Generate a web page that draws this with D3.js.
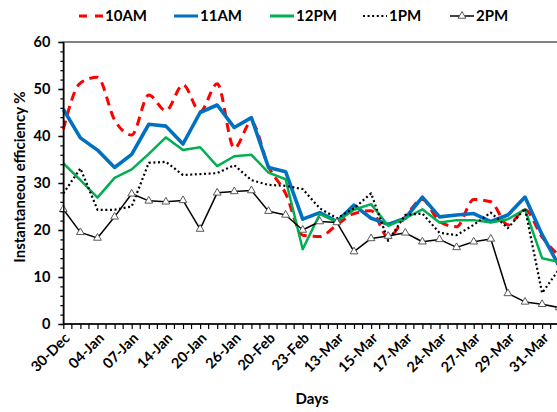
<!DOCTYPE html>
<html><head><meta charset="utf-8">
<script src="https://cdn.jsdelivr.net/npm/d3@7"></script>
<style>
body{margin:0;background:#fff}
svg{display:block;font-family:Lato,'Liberation Sans',sans-serif;font-weight:bold}
</style>
</head><body><svg id="c" width="557" height="412"></svg>
<script>
// categories (only every other one is labelled in the chart)
const days = ["30-Dec","02-Jan","04-Jan","05-Jan","07-Jan","10-Jan","14-Jan","17-Jan","20-Jan","23-Jan",
  "26-Jan","29-Jan","20-Feb","21-Feb","23-Feb","25-Feb","13-Mar","14-Mar","15-Mar","16-Mar",
  "17-Mar","20-Mar","24-Mar","25-Mar","27-Mar","28-Mar","29-Mar","30-Mar","31-Mar","01-Apr"];
const seriesNames = ["10AM","11AM","12PM","1PM","2PM"];
const s10AM = [41.4,51.3,52.5,43.4,40.2,48.7,45.4,50.9,45.2,51.1,37.4,43.0,33.5,27.8,18.9,18.6,21.1,23.5,24.1,18.4,22.8,26.5,21.8,20.7,26.5,26.0,21.1,24.3,18.5,14.5];
const s11AM = [45.7,39.6,37.0,33.3,36.1,42.5,42.1,38.3,45.0,46.6,41.8,43.9,33.3,32.4,22.3,23.7,21.8,25.3,22.5,21.2,22.5,27.0,22.8,23.2,23.5,21.8,23.2,27.0,19.0,12.3];
const s12PM = [34.2,30.6,26.9,31.1,32.9,36.2,39.7,37.0,37.6,33.6,35.7,36.0,32.2,30.8,15.9,23.4,21.8,24.3,25.5,20.9,22.5,24.4,21.6,22.1,22.1,21.6,22.3,24.4,14.0,13.2];
const s1PM  = [27.8,33.1,24.3,24.3,25.0,34.3,34.5,31.7,31.9,32.1,33.8,30.6,29.6,29.4,28.7,24.6,22.5,24.6,27.8,17.7,23.2,23.5,19.4,18.9,21.1,23.7,20.4,24.6,6.6,11.7];
const s2PM  = [24.4,19.5,18.3,22.8,27.7,26.2,26.0,26.3,20.2,27.9,28.2,28.4,24.0,23.2,20.0,21.8,21.6,15.4,18.2,18.7,19.4,17.5,18.0,16.3,17.5,18.1,6.5,4.7,4.2,3.5];
const yTicks = [0,10,20,30,40,50,60];
const yMinorTicks = d3.range(0,61,2);

const svg = d3.select('#c');
const W = 557;
const mLeft = 63.3, mTop = 42, mBottom = 324, step = 17.1;

const x = d3.scalePoint().domain(days).range([mLeft, mLeft + step*(days.length-1)]);
const y = d3.scaleLinear().domain([0,60]).range([mBottom, mTop]);

// plot area border (right side runs off the picture)
svg.append('rect').attr('x',mLeft).attr('y',mTop).attr('width',620).attr('height',mBottom-mTop)
  .attr('fill','none').attr('stroke','#595959').attr('stroke-width',1.5);

const series = [
  {name:"10AM", values:s10AM, color:"#FF0000", width:3, dash:"9,6", curve:d3.curveMonotoneX},
  {name:"11AM", values:s11AM, color:"#0070C0", width:3.6, dash:null, curve:d3.curveLinear},
  {name:"12PM", values:s12PM, color:"#00B050", width:2.5, dash:null, curve:d3.curveLinear},
  {name:"1PM",  values:s1PM,  color:"#000000", width:2.2, dash:"2,2.6", curve:d3.curveLinear},
  {name:"2PM",  values:s2PM,  color:"#000000", width:1.5, dash:null, curve:d3.curveLinear, marker:true}
];

const g = svg.append('g');
series.forEach(s=>{
  const line = d3.line().x((d,i)=>x(days[i])).y(d=>y(d)).curve(s.curve);
  g.append('path').attr('d', line(s.values)).attr('fill','none')
    .attr('stroke', s.color).attr('stroke-width', s.width)
    .attr('stroke-dasharray', s.dash).attr('stroke-linejoin','round');
  if (s.marker){
    g.selectAll(null).data(s.values).enter().append('path')
      .attr('d', d3.symbol().type(d3.symbolTriangle).size(26)())
      .attr('transform',(d,i)=>`translate(${x(days[i])},${y(d)})`)
      .attr('fill','#fff').attr('stroke','#595959').attr('stroke-width',1);
  }
});

// y axis
const yMinor = svg.append('g').attr('transform',`translate(${mLeft},0)`)
  .call(d3.axisLeft(y).tickValues(yMinorTicks).tickSize(3).tickSizeOuter(0).tickFormat(''));
yMinor.select('.domain').remove();
yMinor.selectAll('line').attr('stroke','#000').attr('stroke-width',1.2);
const yAx = svg.append('g').attr('transform',`translate(${mLeft},0)`)
  .call(d3.axisLeft(y).tickValues(yTicks).tickSize(5).tickSizeOuter(0).tickPadding(8));
yAx.select('.domain').attr('stroke','#000').attr('stroke-width',1.5);
yAx.selectAll('line').attr('stroke','#000').attr('stroke-width',1.5);
yAx.selectAll('text').attr('font-family','Lato').attr('font-weight','bold').attr('font-size',14.5).attr('fill','#000');

// x axis
const xAx = svg.append('g').attr('transform',`translate(0,${mBottom})`)
  .call(d3.axisBottom(x).tickSize(5).tickSizeOuter(0).tickFormat((d,i)=> i%2===0 ? d : ''));
xAx.select('.domain').attr('d',`M${mLeft},0H${W+20}`).attr('stroke','#000').attr('stroke-width',1.5);
xAx.selectAll('line').attr('stroke','#000').attr('stroke-width',1.2);
xAx.selectAll('text').attr('font-family','Lato').attr('font-weight','bold').attr('font-size',14.5).attr('fill','#000')
  .attr('x',0).attr('y',0).attr('dy',0).attr('text-anchor','end')
  .attr('transform','translate(7,15) rotate(-45)');
// half-category minor ticks
svg.append('g').selectAll('line').data(days).enter().append('line')
  .attr('x1',d=>x(d)+x.step()/2).attr('x2',d=>x(d)+x.step()/2)
  .attr('y1',mBottom).attr('y2',mBottom+5).attr('stroke','#000').attr('stroke-width',1.2);

// axis titles
svg.append('text').attr('x',312).attr('y',404).attr('text-anchor','middle')
  .attr('font-size',15).text('Days');
svg.append('text').attr('transform','translate(25,177) rotate(-90)').attr('text-anchor','middle')
  .attr('font-size',15).text('Instantaneou efficiency %');

// legend
const legendX = [79,174,270,363,450];
const lg = svg.append('g');
series.forEach((s,i)=>{
  const x0 = legendX[i];
  lg.append('line').attr('x1',x0).attr('x2',x0+24).attr('y1',16).attr('y2',16)
    .attr('stroke',s.color).attr('stroke-width',s.name==='2PM'?1.5:(s.name==='1PM'?2:3))
    .attr('stroke-dasharray', s.name==='10AM' ? '8,8' : s.dash);
  if (s.marker){
    lg.append('path').attr('d', d3.symbol().type(d3.symbolTriangle).size(26)())
      .attr('transform',`translate(${x0+12},16)`).attr('fill','#fff').attr('stroke','#595959');
  }
  lg.append('text').attr('x',x0+26).attr('y',21).attr('font-size',15).text(s.name);
});
</script>
</body></html>
